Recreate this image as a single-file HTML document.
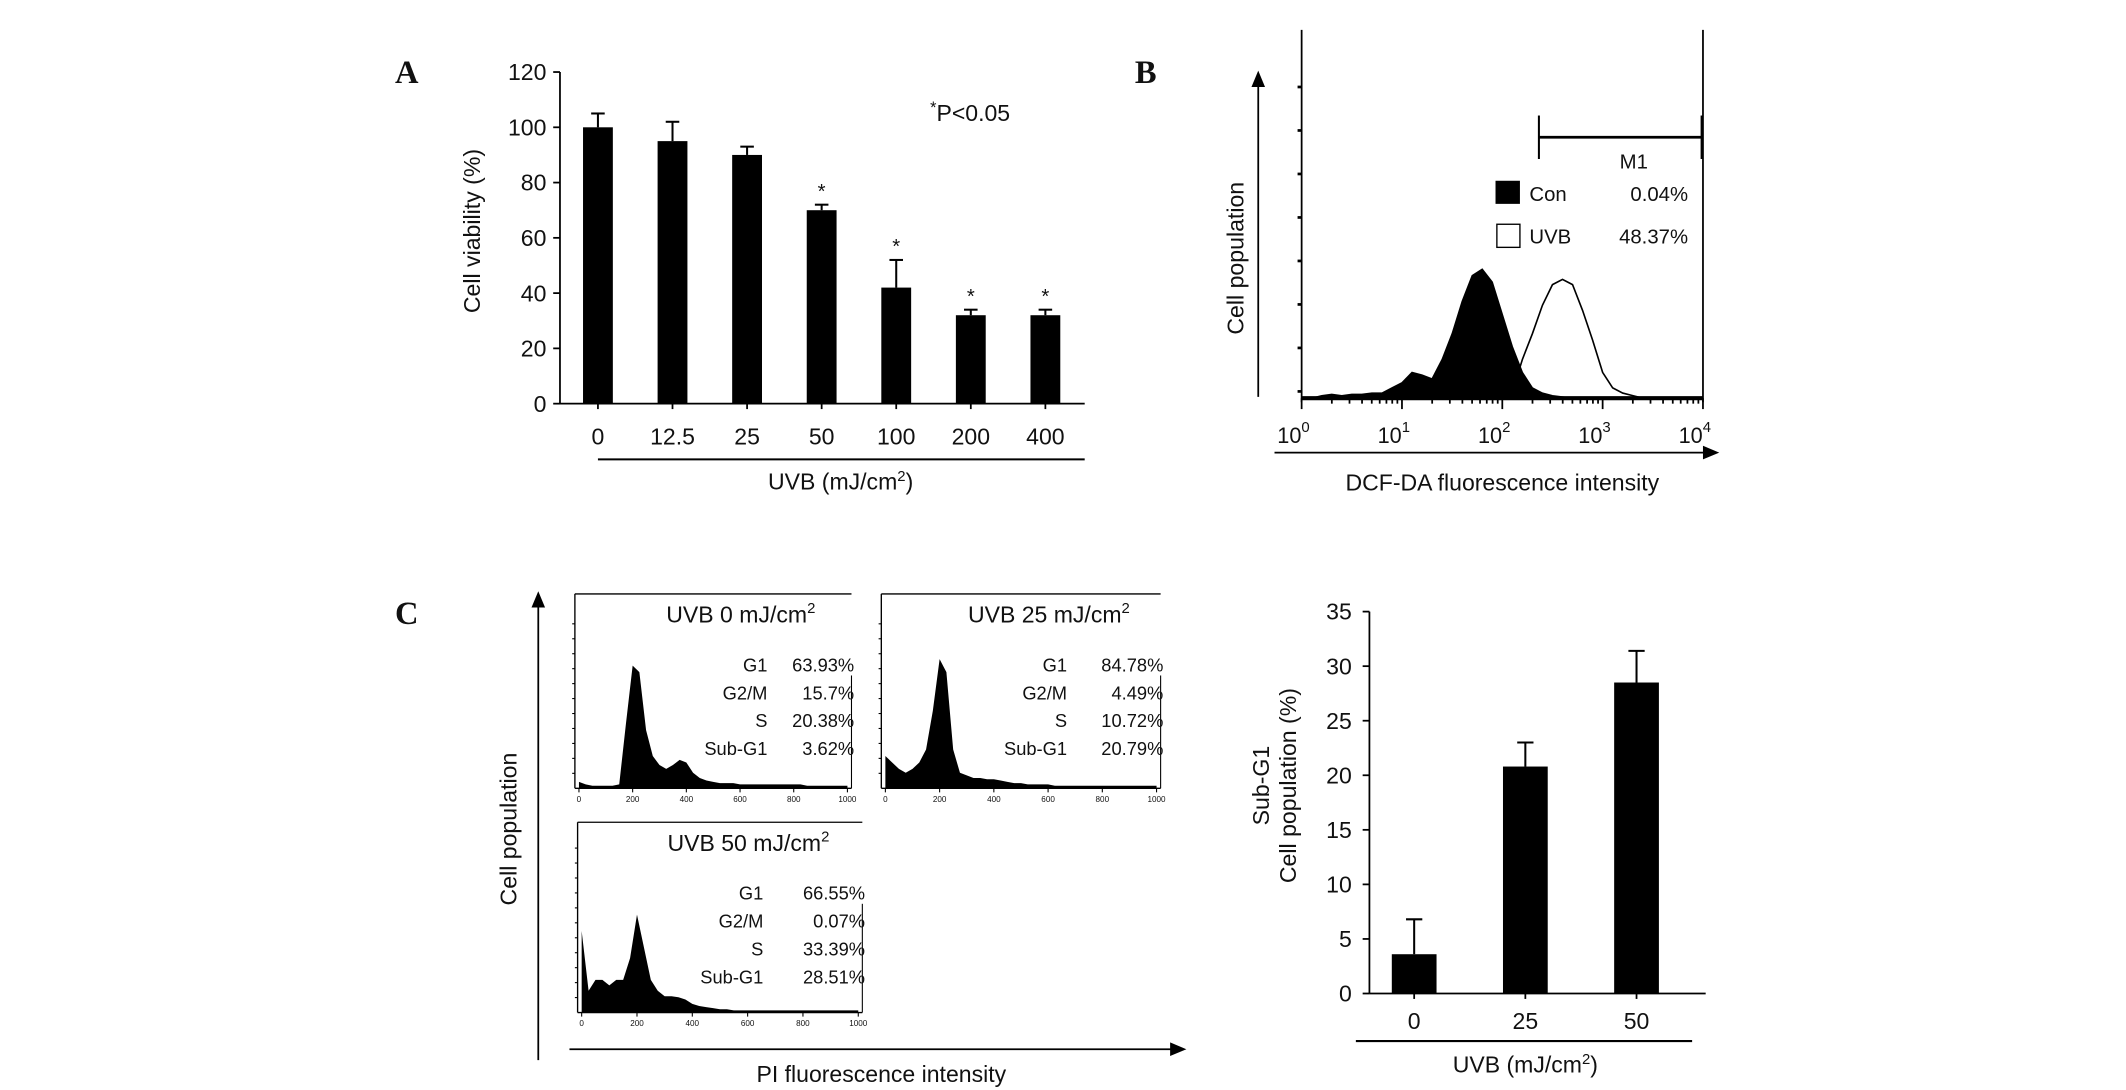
<!DOCTYPE html>
<html><head><meta charset="utf-8"><style>
html,body{margin:0;padding:0;background:#fff;}
svg{display:block;}
text{font-family:"Liberation Sans",Arial,sans-serif;fill:#111;}
.serif{font-family:"Liberation Serif",serif;font-weight:bold;}
</style></head><body>
<svg id="fig" width="2126" height="1090" viewBox="0 0 1568 802" preserveAspectRatio="none" xmlns="http://www.w3.org/2000/svg">
<rect width="1568" height="802" fill="#fff"/>
<g id="A"></g>
<g id="B"></g>
<g id="C"></g>
</svg>
<script>
// Panel A data
const aCats = ["0","12.5","25","50","100","200","400"];
const aVals = [100,95,90,70,42,32,32];
const aErr = [5,7,3,2,10,2,2];
const aSig = [false,false,false,true,true,true,true];
const aTicks = [0,20,40,60,80,100,120];
// Panel B data (heights on log bins 0.0..4.0 step 0.1)
const bTicks = ["0","1","2","3","4"];
const bCon = [0,0,0.02,0.03,0.02,0.03,0.03,0.04,0.04,0.08,0.12,0.2,0.18,0.15,0.3,0.5,0.75,0.95,1.0,0.9,0.65,0.4,0.2,0.08,0.04,0.02,0.01,0,0,0,0,0,0,0,0,0,0,0,0,0,0];
const bUvb = [0,0,0,0,0,0,0,0,0,0,0,0,0,0,0,0,0,0,0,0,0,0.05,0.3,0.5,0.72,0.88,0.92,0.88,0.68,0.45,0.2,0.08,0.04,0.02,0,0,0,0,0,0,0];
// Panel C histograms (bins 0..1000 step 25)
const cH0 = [0.05,0.03,0.02,0.02,0.02,0.02,0.03,0.5,0.95,0.9,0.45,0.25,0.18,0.15,0.18,0.22,0.2,0.12,0.08,0.06,0.05,0.04,0.04,0.04,0.03,0.03,0.03,0.03,0.03,0.03,0.03,0.03,0.03,0.03,0.02,0.02,0.02,0.02,0.02,0.02,0.02];
const cH25 = [0.25,0.2,0.15,0.12,0.15,0.2,0.3,0.6,1.0,0.9,0.3,0.12,0.1,0.08,0.08,0.07,0.07,0.06,0.05,0.04,0.04,0.03,0.03,0.03,0.03,0.02,0.02,0.02,0.02,0.02,0.02,0.02,0.02,0.02,0.02,0.02,0.02,0.02,0.02,0.02,0.02];
const cH50 = [0.75,0.2,0.3,0.3,0.25,0.3,0.3,0.5,0.9,0.6,0.3,0.2,0.15,0.15,0.14,0.12,0.08,0.06,0.05,0.04,0.03,0.03,0.02,0.02,0.02,0.02,0.02,0.02,0.02,0.02,0.02,0.02,0.02,0.02,0.02,0.02,0.02,0.02,0.02,0.02,0.02];
const cStats0 = ["63.93%","15.7%","20.38%","3.62%"];
const cStats25 = ["84.78%","4.49%","10.72%","20.79%"];
const cStats50 = ["66.55%","0.07%","33.39%","28.51%"];
const phases = ["G1","G2/M","S","Sub-G1"];
// Panel C bar chart
const dCats = ["0","25","50"];
const dVals = [3.6,20.8,28.5];
const dErr = [3.2,2.2,2.9];
const dTicks = [0,5,10,15,20,25,30,35];

const NS="http://www.w3.org/2000/svg";
function mk(parent,tag,attrs,txt){const e=document.createElementNS(NS,tag);for(const k in attrs)e.setAttribute(k,attrs[k]);if(txt!==undefined)e.textContent=txt;parent.appendChild(e);return e;}
function line(p,x1,y1,x2,y2,w){return mk(p,"line",{x1,y1,x2,y2,stroke:"#000","stroke-width":w||1.3});}

// ---------- Panel A ----------
const A=document.getElementById("A");
let t=mk(A,"text",{x:300,y:61,"font-size":24,class:"serif","text-anchor":"middle"},"A");


const aY=v=>297-v*(297-53)/120;
const aX=i=>441+i*55;
line(A,413,53,413,297);line(A,413,297,800,297);
aTicks.forEach(v=>{line(A,408,aY(v),413,aY(v));
 const tt=mk(A,"text",{x:403,y:aY(v)+6,"font-size":17,"text-anchor":"end"},v);
 
 });
aCats.forEach((c,i)=>{
 const x=aX(i),y=aY(aVals[i]);
 const r=mk(A,"rect",{x:x-11,y:y,width:22,height:297-y,fill:"#000"});
 
 
 const ey=aY(aVals[i]+aErr[i]);
 line(A,x,y,x,ey,1.5);line(A,x-5,ey,x+5,ey,1.5);
 if(aSig[i]){const s=mk(A,"text",{x:x,y:ey-5,"font-size":15,"text-anchor":"middle"},"*");
  
  }
 line(A,x,297,x,301);
 const tl=mk(A,"text",{x:x,y:327,"font-size":17,"text-anchor":"middle"},c);
 
 
});
line(A,441,338,800,338,1.5);
t=mk(A,"text",{x:620,y:360,"font-size":17,"text-anchor":"middle"});t.innerHTML='UVB (mJ/cm<tspan dy="-6" font-size="11">2</tspan><tspan dy="6">)</tspan>';


t=mk(A,"text",{x:354,y:170,"font-size":17,"text-anchor":"middle",transform:"rotate(-90 354 170)"},"Cell viability (%)");


t=mk(A,"text",{x:686,y:89,"font-size":17});t.innerHTML='<tspan dy="-6" font-size="12">*</tspan><tspan dy="6">P&lt;0.05</tspan>';



// ---------- Panel B ----------
const B=document.getElementById("B");
t=mk(B,"text",{x:845,y:61,"font-size":24,class:"serif","text-anchor":"middle"},"B");


const bX=l=>960+l*(1256-960)/4;
const bBase=293, bH=95;
line(B,960,22,960,296);line(B,1256,22,1256,296);line(B,960,bBase,1256,bBase,3);
for(let k=0;k<8;k++){const y=bBase-k*32-5;line(B,957,y,960,y,2);}
for(let d=0;d<4;d++){for(let m=1;m<10;m++){const x=bX(d+Math.log10(m));line(B,x,bBase,x,bBase+(m==1?8:4),1.3);}}
line(B,1256,bBase,1256,bBase+8);
bTicks.forEach((s,i)=>{const tt=mk(B,"text",{x:bX(i)-6,y:326,"font-size":16,"text-anchor":"middle"});tt.innerHTML='10<tspan dy="-8" font-size="11">'+s+'</tspan>';
 
 });
function histPath(arr,xf,base,h,close){let d="M"+xf(0)+","+base;arr.forEach((v,i)=>{d+=" L"+xf(i)+","+(base-v*h);});d+=" L"+xf(arr.length-1)+","+base+(close?" Z":"");return d;}
let p=mk(B,"path",{d:histPath(bUvb,i=>bX(i/10),bBase,bH,false),fill:"none",stroke:"#000","stroke-width":1.2});


p=mk(B,"path",{d:histPath(bCon,i=>bX(i/10),bBase,bH,true),fill:"#000",stroke:"#000","stroke-width":1});


line(B,1135,101,1255,101,2);line(B,1135,85,1135,117,1.5);line(B,1255,85,1255,117,1.5);
t=mk(B,"text",{x:1205,y:124,"font-size":15,"text-anchor":"middle"},"M1");


let r=mk(B,"rect",{x:1103,y:133,width:18,height:17,fill:"#000"});


r=mk(B,"rect",{x:1104,y:165,width:17,height:17,fill:"#fff",stroke:"#000","stroke-width":1});


t=mk(B,"text",{x:1128,y:148,"font-size":15},"Con");
t=mk(B,"text",{x:1245,y:148,"font-size":15,"text-anchor":"end"},"0.04%");
t=mk(B,"text",{x:1128,y:179,"font-size":15},"UVB");
t=mk(B,"text",{x:1245,y:179,"font-size":15,"text-anchor":"end"},"48.37%");
line(B,928,292,928,62,1.3);mk(B,"path",{d:"M923,64 L928,52 L933,64 Z",fill:"#000"});
line(B,940,333,1258,333,1.3);mk(B,"path",{d:"M1256,328 L1268,333 L1256,338 Z",fill:"#000"});
t=mk(B,"text",{x:1108,y:361,"font-size":17,"text-anchor":"middle"},"DCF-DA fluorescence intensity");

t=mk(B,"text",{x:917,y:190,"font-size":17,"text-anchor":"middle",transform:"rotate(-90 917 190)"},"Cell population");


// ---------- Panel C ----------
const C=document.getElementById("C");
t=mk(C,"text",{x:300,y:459,"font-size":24,class:"serif","text-anchor":"middle"},"C");

function cycPanel(name,x0,x1,y0,y1,hist,hmax,title,stats,labR){
 const g=mk(C,"g",{});
 
 
 line(g,x0,y0,x0,y1,1);line(g,x0,y0,x1,y0,1);line(g,x1,y0+60,x1,y1,0.8);line(g,x0,y1,x1,y1,1);
 for(let k=1;k<12;k++){line(g,x0-2,y1-k*11,x0,y1-k*11,0.8);}
 const xf=i=>x0+3+i*(x1-x0-6)/40;
 mk(g,"path",{d:histPath(hist,xf,y1,hmax,true),fill:"#000"});
 for(let v=0;v<=1000;v+=200){const x=x0+3+v/1000*(x1-x0-6);line(g,x,y1,x,y1+3,0.8);mk(g,"text",{x:x,y:y1+10,"font-size":6,"text-anchor":"middle",fill:"#444"},v);}
 const tt=mk(g,"text",{x:x0+(x1-x0)*0.6,y:y0+21,"font-size":17,"text-anchor":"middle"});tt.innerHTML=title+'<tspan dy="-7" font-size="11">2</tspan>';
 phases.forEach((ph,i)=>{const y=y0+57+i*20.5;mk(g,"text",{x:labR,y:y,"font-size":13.5,"text-anchor":"end"},ph);mk(g,"text",{x:x1+2,y:y,"font-size":13.5,"text-anchor":"end"},stats[i]);});
}
cycPanel("c-histogram-uvb-0",424,628,437,580,cH0,95,"UVB 0 mJ/cm",cStats0,566);
cycPanel("c-histogram-uvb-25",650,856,437,580,cH25,95,"UVB 25 mJ/cm",cStats25,787);
cycPanel("c-histogram-uvb-50",426,636,605,745,cH50,80,"UVB 50 mJ/cm",cStats50,563);
line(C,397,780,397,445,1.3);mk(C,"path",{d:"M392,447 L397,435 L402,447 Z",fill:"#000"});
line(C,420,772,865,772,1.3);mk(C,"path",{d:"M863,767 L875,772 L863,777 Z",fill:"#000"});
t=mk(C,"text",{x:650,y:796,"font-size":17,"text-anchor":"middle"},"PI fluorescence intensity");

t=mk(C,"text",{x:381,y:610,"font-size":17,"text-anchor":"middle",transform:"rotate(-90 381 610)"},"Cell population");


// Bar chart
const dY=v=>731-v*(731-450)/35;
const dX=i=>1043+i*82;
line(C,1010,450,1010,731);line(C,1010,731,1258,731);
dTicks.forEach(v=>{line(C,1005,dY(v),1010,dY(v));
 const tt=mk(C,"text",{x:997,y:dY(v)+6,"font-size":17,"text-anchor":"end"},v);
 });
dCats.forEach((c,i)=>{const x=dX(i),y=dY(dVals[i]);
 const rr=mk(C,"rect",{x:x-16.5,y:y,width:33,height:731-y,fill:"#000"});
 
 const ey=dY(dVals[i]+dErr[i]);line(C,x,y,x,ey,1.5);line(C,x-6,ey,x+6,ey,1.5);
 line(C,x,731,x,735);
 const tl=mk(C,"text",{x:x,y:757,"font-size":17,"text-anchor":"middle"},c);
 });
line(C,1000,766,1248,766,1.5);
t=mk(C,"text",{x:1125,y:789,"font-size":17,"text-anchor":"middle"});t.innerHTML='UVB (mJ/cm<tspan dy="-6" font-size="11">2</tspan><tspan dy="6">)</tspan>';

t=mk(C,"text",{x:936,y:578,"font-size":17,"text-anchor":"middle",transform:"rotate(-90 936 578)"},"Sub-G1");

t=mk(C,"text",{x:956,y:578,"font-size":17,"text-anchor":"middle",transform:"rotate(-90 956 578)"},"Cell population (%)");

</script>
</body></html>
